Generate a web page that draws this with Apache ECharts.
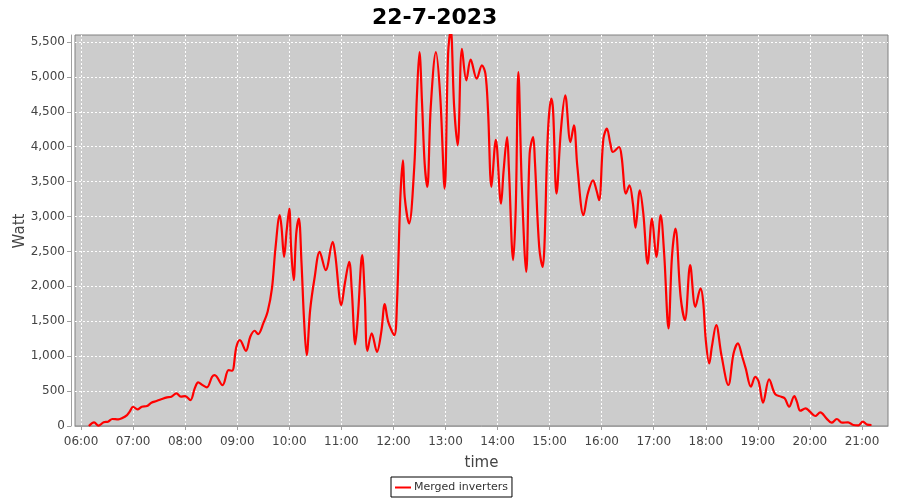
<!DOCTYPE html>
<html>
<head>
<meta charset="utf-8">
<script src="https://cdn.jsdelivr.net/npm/echarts@6/dist/echarts.min.js"></script>
<style>
  html, body { margin: 0; padding: 0; background: #fff; }
  #chart { width: 900px; height: 500px; }
</style>
</head>
<body>
<div id="chart"></div>
<script>
// readings of the merged inverters (local time, watt)
const times = ['06:09','06:15','06:20','06:26','06:31','06:36','06:43','06:47','06:53','06:56',
  '07:00','07:05','07:10','07:16','07:21','07:27','07:33','07:39','07:44','07:50','07:55',
  '08:00','08:06','08:11','08:15','08:20','08:25','08:31','08:34','08:43','08:50','08:54','08:59',
  '09:03','09:10','09:15','09:20','09:24','09:30','09:35','09:40','09:44','09:49','09:51','09:54','09:57',
  '10:00','10:02','10:05','10:08','10:11','10:14','10:17','10:20','10:24','10:29','10:35','10:42','10:50','10:53',
  '11:00','11:04','11:09','11:12','11:16','11:19','11:24','11:27','11:30','11:35','11:41','11:46','11:50','11:54',
  '12:01','12:04','12:08','12:11','12:13','12:18','12:24','12:27','12:30','12:33','12:36','12:39','12:43','12:49','12:54','12:59',
  '13:03','13:06','13:10','13:14','13:19','13:24','13:29','13:36','13:42','13:46','13:49','13:53','13:58',
  '14:04','14:07','14:11','14:13','14:18','14:21','14:24','14:28','14:33','14:37','14:41','14:43','14:48','14:52','14:54','14:58',
  '15:02','15:04','15:08','15:13','15:18','15:24','15:28','15:32','15:39','15:44','15:50','15:54','15:57',
  '16:02','16:06','16:10','16:13','16:20','16:23','16:28','16:32','16:36','16:39','16:44','16:48','16:53','16:58',
  '17:03','17:08','17:12','17:17','17:21','17:25','17:31','17:36','17:42','17:48','17:54','17:57',
  '18:00','18:04','18:07','18:12','18:18','18:26','18:32','18:37','18:42','18:46','18:52','18:57',
  '19:01','19:06','19:13','19:20','19:27','19:31','19:36','19:42','19:45','19:49','19:55',
  '20:00','20:06','20:12','20:19','20:25','20:31','20:37','20:44','20:50','20:56',
  '21:01','21:06','21:11'];
const watts = [0,53,5,53,62,100,95,110,157,205,
  276,238,276,286,333,358,386,410,420,468,420,
  429,372,539,625,586,553,705,730,586,800,791,1135,
  1230,1077,1278,1364,1316,1469,1635,1970,2542,3019,2851,2422,2804,
  3114,2565,2089,2757,2971,2350,1517,1016,1660,2113,2494,2232,2637,2446,
  1731,2041,2350,1946,1170,1564,2446,1850,1077,1326,1063,1349,1745,1492,
  1302,1731,3280,3805,3280,2900,3710,4711,5355,4617,3758,3424,4568,5355,4711,3400,
  5332,5680,4568,4020,5403,4950,5246,4974,5165,5046,4521,3424,4100,
  3186,3662,4139,3710,2375,3137,5069,3424,2207,3901,4139,3805,2565,2279,2565,4187,
  4688,4521,3329,4235,4735,4067,4306,3710,3019,3329,3519,3376,3233,
  4115,4259,4044,3924,3996,3853,3329,3448,3186,2840,3376,3043,2327,2971,
  2422,3019,2470,1398,2422,2828,1850,1517,2303,1707,1970,1778,
  1230,897,1135,1445,1016,587,1040,1183,992,826,562,705,
  634,333,668,455,420,396,276,429,348,219,253,
  205,143,196,110,47,100,47,53,14,10,
  62,19,14];
const hourTicks = ['06:00','07:00','08:00','09:00','10:00','11:00','12:00','13:00',
  '14:00','15:00','16:00','17:00','18:00','19:00','20:00','21:00'];
const wattTicks = [0,500,1000,1500,2000,2500,3000,3500,4000,4500,5000,5500];

function toMin(s) {
  const p = s.split(':');
  return +p[0] * 60 + +p[1];
}
function fmtMin(v) {
  const h = Math.floor(v / 60), m = Math.round(v % 60);
  return String(h).padStart(2, '0') + ':' + String(m).padStart(2, '0');
}

const points = times.map((t, i) => [toMin(t), watts[i]]);
const font = 'DejaVu Sans';

const chart = echarts.init(document.getElementById('chart'), null, { renderer: 'canvas' });
chart.setOption({
  animation: false,
  backgroundColor: '#ffffff',
  title: {
    text: '22-7-2023',
    left: 367,
    top: 2,
    textStyle: { fontFamily: font, fontSize: 22, fontWeight: 'bold', color: '#000' },
  },
  // y axis caption, placed by hand because the axis name gets pushed outward
  graphic: [{
    type: 'text',
    x: 20,
    y: 231,
    rotation: Math.PI / 2,
    style: {
      text: 'Watt',
      fill: '#444',
      font: '15px "DejaVu Sans"',
      align: 'center',
      verticalAlign: 'middle',
    },
  }],
  legend: {
    data: ['Merged inverters'],
    left: 391,
    top: 477,
    padding: [5, 4, 4, 4],
    borderColor: '#000',
    borderWidth: 1,
    backgroundColor: '#fff',
    icon: 'rect',
    itemWidth: 16,
    itemHeight: 2,
    itemGap: 4,
    textStyle: { fontFamily: font, fontSize: 11, color: '#333', padding: [0, 0, 0, -2] },
  },
  grid: {
    left: 75, right: 12, top: 35, bottom: 74,
    show: true,
    backgroundColor: '#cccccc',
    borderColor: '#808080',
    borderWidth: 1,
  },
  xAxis: {
    type: 'value',
    min: 353,
    max: 1290,
    offset: 4,
    name: 'time',
    nameLocation: 'middle',
    nameGap: 26,
    nameTextStyle: { fontFamily: font, fontSize: 15, color: '#444' },
    axisLine: { show: true, lineStyle: { color: '#a0a0a0' } },
    axisTick: { show: true, length: 4, lineStyle: { color: '#a0a0a0' }, customValues: hourTicks.map(toMin) },
    axisLabel: {
      customValues: hourTicks.map(toMin),
      formatter: fmtMin,
      margin: 6,
      fontFamily: font, fontSize: 12, color: '#444',
    },
    splitLine: { show: true, lineStyle: { color: '#ffffff', type: [2, 2], width: 1 } },
  },
  yAxis: {
    type: 'value',
    min: 0,
    max: 5600,
    offset: 4,
    axisLine: { show: true, lineStyle: { color: '#a0a0a0' } },
    axisTick: { show: true, length: 4, lineStyle: { color: '#a0a0a0' }, customValues: wattTicks },
    axisLabel: {
      customValues: wattTicks,
      formatter: (v) => v.toLocaleString('en-US'),
      margin: 6,
      fontFamily: font, fontSize: 12, color: '#444',
    },
    splitLine: { show: true, lineStyle: { color: '#ffffff', type: [2, 2], width: 1 } },
  },
  series: [{
    name: 'Merged inverters',
    type: 'line',
    data: points,
    smooth: 0.35,
    showSymbol: false,
    clip: true,
    lineStyle: { color: '#ff0000', width: 2.2 },
    itemStyle: { color: '#ff0000' },
  }],
});
</script>
</body>
</html>
